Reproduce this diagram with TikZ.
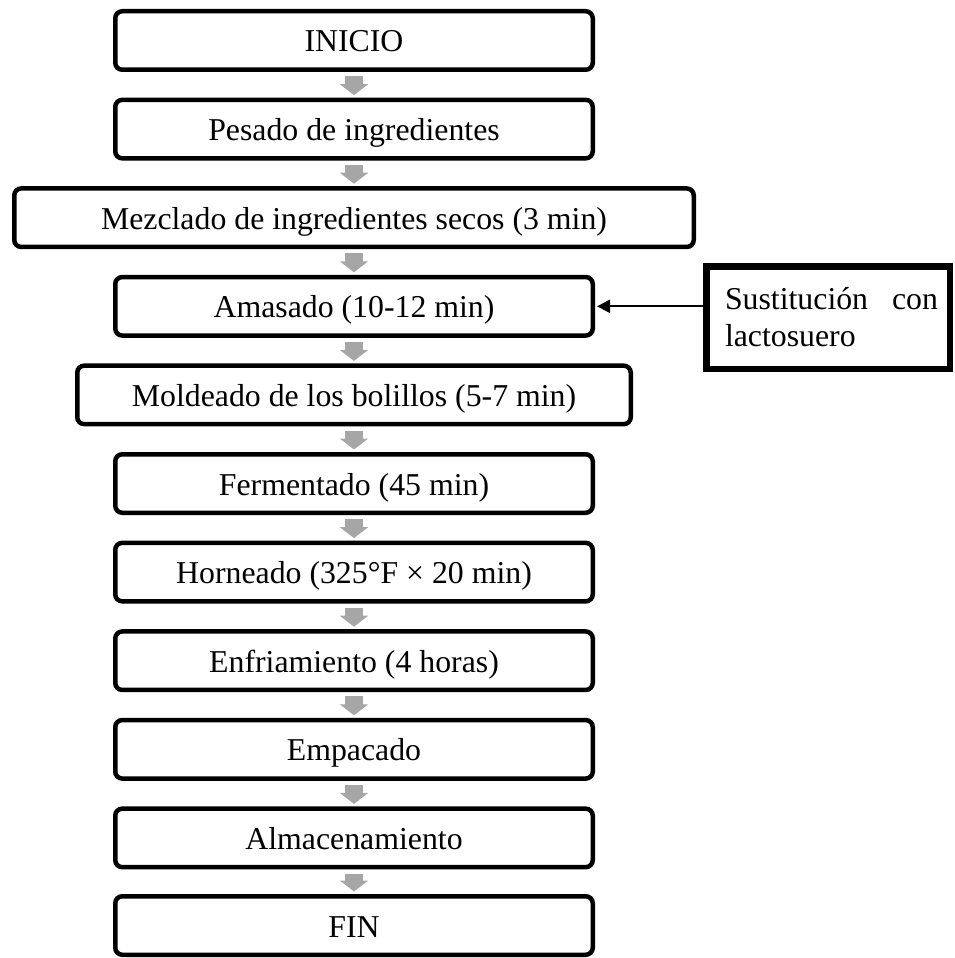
\documentclass[tikz,border=0pt]{standalone}
\usepackage{fontspec}
\setmainfont{Liberation Serif}
\usetikzlibrary{arrows.meta}
\definecolor{flowgray}{HTML}{A6A6A6}
\begin{document}
\begin{tikzpicture}[x=1pt,y=-1pt,
  box/.style={draw=black, line width=4.5pt, rounded corners=7pt, minimum height=58.5pt,
    minimum width=477.5pt, inner sep=0pt, text height=25pt, text depth=2pt,
    font=\fontsize{31.8}{36}\selectfont},
  flow/.style={draw=flowgray, line width=18pt, -{Triangle[width=28pt,length=11pt]},
    shorten <=4.25pt, shorten >=2.5pt},
  sidebox/.style={draw=black, line width=6.5pt, minimum width=243.5pt, minimum height=102.5pt, inner sep=0pt},
  sidetext/.style={inner sep=0pt, text width=213pt, align=left,
    font=\fontsize{31.8}{37}\selectfont},
  feed/.style={draw=black, line width=2pt, -{Triangle[width=13pt,length=13pt]}}
]
\useasboundingbox (0,0) rectangle (954,958);

\node[box] (n0) at (354,40.5) {INICIO};
\node[box] (n1) at (354,129.1) {Pesado de ingredientes};
\node[box, minimum width=679.5pt] (n2) at (354,217.7) {Mezclado de ingredientes secos (3 min)};
\node[box] (n3) at (354,306.3) {Amasado (10-12 min)};
\node[box, minimum width=553.5pt] (n4) at (354,394.9) {Moldeado de los bolillos (5-7 min)};
\node[box] (n5) at (354,483.5) {Fermentado (45 min)};
\node[box] (n6) at (354,572.1) {Horneado (325°F × 20 min)};
\node[box] (n7) at (354,660.7) {Enfriamiento (4 horas)};
\node[box] (n8) at (354,749.3) {Empacado};
\node[box] (n9) at (354,837.9) {Almacenamiento};
\node[box] (n10) at (354,925.5) {FIN};

\foreach \a/\b in {n0/n1,n1/n2,n2/n3,n3/n4,n4/n5,n5/n6,n6/n7,n7/n8,n8/n9,n9/n10}
  \draw[flow] (\a.south) -- (\b.north);

\node[sidebox] (side) at (828,317.5) {};
\node[sidetext] (sidetxt) at (831.5,317.5) {Sustitución\hfill con\\lactosuero};

\draw[feed] (side.west |- n3.east) -- ([xshift=2pt]n3.east);
\end{tikzpicture}
\end{document}
